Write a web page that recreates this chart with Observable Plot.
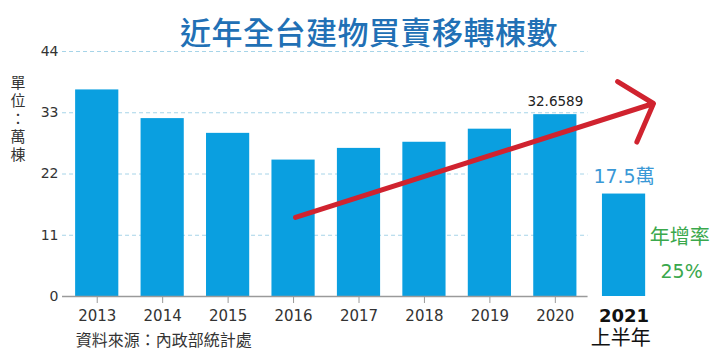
<!DOCTYPE html>
<html>
<head>
<meta charset="utf-8">
<script src="https://cdn.jsdelivr.net/npm/d3@7"></script>
<script src="https://cdn.jsdelivr.net/npm/@observablehq/plot@0.6"></script>
<style>
  html, body { margin: 0; padding: 0; background: #fff; }
  #wrap { position: relative; width: 720px; height: 351px; overflow: hidden; }
  #title {
    position: absolute; left: 0; top: 15px; width: 738px; text-align: center;
    font-family: "Noto Sans CJK TC", "Noto Sans", sans-serif; font-size: 31px; font-weight: 500;
    line-height: 31px; color: #2170b5; letter-spacing: 0.5px;
  }
  #chart { position: absolute; left: 0; top: 0; }
</style>
</head>
<body>
<div id="wrap">
  <div id="chart"></div>
  <div id="title">近年全台建物買賣移轉棟數</div>
</div>
<script>
// ---- data ----
const years = [2013, 2014, 2015, 2016, 2017, 2018, 2019, 2020];
const counts = [37.1, 31.95, 29.3, 24.5, 26.6, 27.7, 30.05, 32.6589];
const halfYear = [2021];
const halfValue = [18.4];
const yTicks = [0, 11, 22, 33, 44];
const gridValues = [11, 22, 33, 44];
const lastLabel = ["32.6589"];
const halfLabel = ["17.5萬"];
const growthLabel = ["年增率"];
const growthValue = ["25%"];
const halfYearLabel = ["2021"];
const halfYearSub = ["上半年"];
const unitLabel = ["單\n位\n：\n萬\n棟"];
const sourceLabel = ["資料來源：內政部統計處"];
const arrowX = [2016.03, 2021.5];
const arrowY = [14.2, 34.66];

const bars = years.map((x, i) => ({x, v: counts[i]}));
const halfBars = halfYear.map((x, i) => ({x, v: halfValue[i]}));
const barHalf = 0.33;
const axisStart = 2012.47, axisEnd = 2020.5;

const sansNum = "'DejaVu Sans', 'Noto Sans CJK TC', sans-serif";
const sansCJK = "'Noto Sans CJK TC', 'DejaVu Sans', sans-serif";

const chart = Plot.plot({
  width: 720,
  height: 351,
  marginTop: 51,
  marginBottom: 55,
  marginLeft: 64,
  marginRight: 67,
  x: {domain: [2012.5, 2021.5]},
  y: {domain: [0, 44]},
  style: {fontFamily: sansNum, background: "transparent", overflow: "visible"},
  marks: [
    Plot.ruleY(gridValues, {x1: axisStart, x2: axisEnd, stroke: "#a6d4e8", strokeDasharray: "4,3", strokeWidth: 1}),
    Plot.rectY(bars, {x1: d => d.x - barHalf, x2: d => d.x + barHalf, y: "v", fill: "#0a9fe0"}),
    Plot.rectY(halfBars, {x1: d => d.x + 0.05 - barHalf, x2: d => d.x + 0.05 + barHalf, y: "v", fill: "#0a9fe0"}),
    Plot.ruleY([0], {x1: axisStart, x2: axisEnd, stroke: "#9a9a9a", strokeWidth: 1.5}),
    Plot.axisY({ticks: yTicks, tickSize: 0, tickPadding: 6, fontSize: 14, fill: "#333", label: null, tickFormat: "d"}),
    Plot.axisX({ticks: years, tickSize: 7, tickPadding: 7, fontSize: 15, fill: "#333", stroke: "#9a9a9a", label: null, tickFormat: "d"}),
    Plot.text(lastLabel, {x: [2020], y: [counts[counts.length - 1]], text: d => d, dy: -13, fontSize: 13.5, fill: "#222"}),
    Plot.text(halfLabel, {x: [2021.05], y: halfValue, text: d => d, dy: -17, fontSize: 19, fill: "#3a98d6", fontFamily: sansNum}),
    Plot.text(growthLabel, {x: [2021.9], y: [10.6], text: d => d, fontSize: 20, fill: "#3aa84c", fontFamily: sansCJK}),
    Plot.text(growthValue, {x: [2021.93], y: [4.5], text: d => d, fontSize: 19, fill: "#3aa84c"}),
    Plot.text(halfYearLabel, {x: [2021.05], y: [0], text: d => d, dy: 20, fontSize: 18, fontWeight: "bold", fill: "#111"}),
    Plot.text(halfYearSub, {x: [2021.0], y: [0], text: d => d, dy: 42, fontSize: 20, fill: "#111", fontFamily: sansCJK}),
    Plot.text(unitLabel, {x: [2011.79], y: [32.1], text: d => d, fontSize: 15, lineHeight: 1.2, fill: "#333", fontFamily: sansCJK}),
    Plot.text(sourceLabel, {x: [2012.67], y: [0], text: d => d, dy: 44, textAnchor: "start", fontSize: 16, fill: "#333", fontFamily: sansCJK}),
    Plot.arrow([0], {x1: () => arrowX[0], y1: () => arrowY[0], x2: () => arrowX[1], y2: () => arrowY[1], stroke: "#d0232f", strokeWidth: 5, headAngle: 98, headLength: 12.6})
  ]
});
document.getElementById("chart").appendChild(chart);
</script>
</body>
</html>
